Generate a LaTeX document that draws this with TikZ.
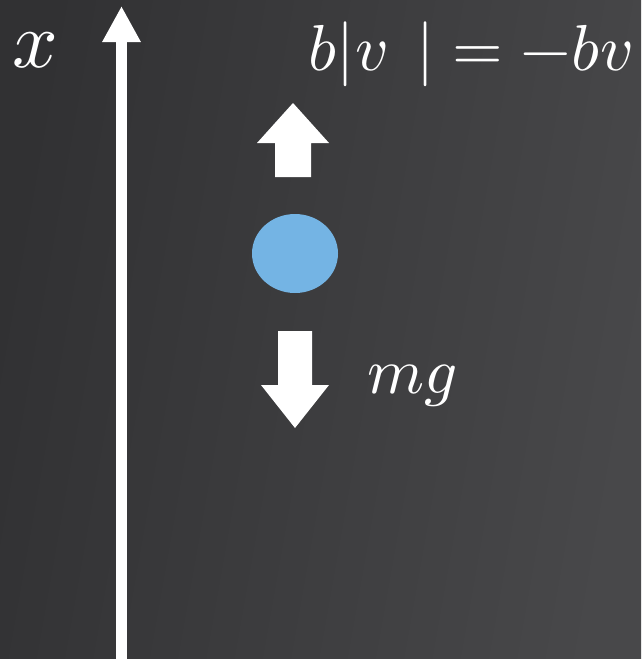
\documentclass[tikz,border=0pt]{standalone}
\usepackage{unicode-math}
\usetikzlibrary{arrows.meta,shapes.geometric}

\definecolor{bgdark}{RGB}{49,49,51}
\definecolor{bglight}{RGB}{72,72,74}
\definecolor{ballblue}{RGB}{116,180,228}

\begin{document}
\begin{tikzpicture}[
  x = 1pt, y = -1pt,
  every node/.style = {text=white, inner sep=0pt, anchor=base west},
  axis/.style = {draw=white, line width=11pt, -{Triangle[width=36pt, length=36pt]}},
  force/.style = {fill=white, draw=none},
  ball/.style = {ellipse, fill=ballblue, minimum width=86pt, minimum height=79pt, anchor=center},
  big/.style = {font=\fontsize{80}{90}\selectfont},
  lbl/.style = {font=\fontsize{65}{74}\selectfont},
]

\useasboundingbox (0,0) rectangle (641,659);
\shade[left color=bgdark, right color=bglight, shading angle=80] (0,0) rectangle (641,659);

% axis
\coordinate (foot) at (121.5, 659);
\coordinate (head) at (121.5, 6);
\draw[axis] (foot) -- (head);
\node[big] (xlabel) at (12, 67) {$x$};

% the ball and the two forces
\node[ball] (mass) at (295, 253.5) {};
\fill[force] (293,103) -- (329,143) -- (311,143) -- (311,177)
  -- (275,177) -- (275,143) -- (257,143) -- cycle;
\fill[force] (278,331) -- (312,331) -- (312,385) -- (329,385)
  -- (295,428) -- (261,385) -- (278,385) -- cycle;

\node[lbl] (drag)    at (308, 70)  {$b|v\;\,| = -bv$};
\node[lbl] (gravity) at (367, 393) {$mg$};

\end{tikzpicture}
\end{document}
